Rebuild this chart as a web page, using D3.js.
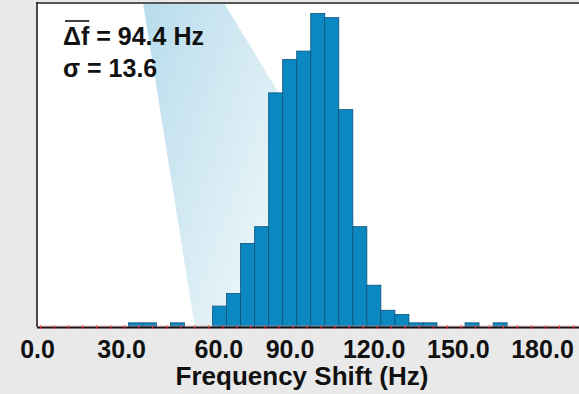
<!DOCTYPE html>
<html>
<head>
<meta charset="utf-8">
<script src="https://d3js.org/d3.v7.min.js"></script>
<style>
    html, body { margin: 0; padding: 0; background: #e9e9e9; }
    svg { display: block; }
    text { font-family: "Liberation Sans", Arial, sans-serif; font-weight: bold; fill: #111; }
</style>
</head>
<body>
<svg width="579" height="394"></svg>
<script>
    // histogram bins: lower edge of the first bin, 5 Hz wide bins, counts
    var binStart = 31.5;
    var binWidth = 5;
    var counts = [1, 1, 0, 1, 0, 0, 5, 8, 20, 24, 56, 64, 66, 75, 74, 52, 24, 10, 4, 3, 1, 1, 0, 0, 1, 0, 1];
    var tickLabels = [0, 30, 60, 90, 120, 150, 180];
    var meanText = "94.4 Hz";
    var sigmaText = "13.6";
    var xTitle = "Frequency Shift (Hz)";
    // light cone drawn behind the bars, in data units (Hz at top / at base)
    var coneTop = [36.7, 65.6];
    var coneBase = [55.2, 135.8];

    var svg = d3.select("svg"),
        W = 579, H = 394,
        plotLeft = 37, plotTop = 3, base = 327;

    var x = d3.scaleLinear().domain([0, 180]).range([40, 545]);
    var y = d3.scaleLinear().domain([0, 77.5]).range([base, plotTop]);

    var bins = counts.map(function (c, i) {
        return { x0: binStart + i * binWidth, x1: binStart + (i + 1) * binWidth, n: c };
    }).filter(function (d) { return d.n > 0; });

    var defs = svg.append("defs");
    var grad = defs.append("linearGradient")
        .attr("id", "cone")
        .attr("gradientUnits", "userSpaceOnUse")
        .attr("x1", x(coneTop[0])).attr("y1", plotTop)
        .attr("x2", x(coneBase[1])).attr("y2", plotTop + 100);
    grad.append("stop").attr("offset", 0).attr("stop-color", "#b7dcec");
    grad.append("stop").attr("offset", 0.55).attr("stop-color", "#e0f0f6");
    grad.append("stop").attr("offset", 0.95).attr("stop-color", "#ffffff");

    // plot frame
    svg.append("rect")
        .attr("x", plotLeft).attr("y", plotTop)
        .attr("width", W - plotLeft + 5).attr("height", base - plotTop)
        .attr("fill", "#fff");

    svg.append("path")
        .attr("d", "M" + x(coneTop[0]) + "," + plotTop +
            "L" + x(coneTop[1]) + "," + plotTop +
            "L" + x(coneBase[1]) + "," + base +
            "L" + x(coneBase[0]) + "," + base + "Z")
        .attr("fill", "url(#cone)");

    svg.append("line")
        .attr("x1", plotLeft).attr("x2", W).attr("y1", plotTop).attr("y2", plotTop)
        .attr("stroke", "#555").attr("stroke-width", 2);
    svg.append("line")
        .attr("x1", plotLeft).attr("x2", plotLeft).attr("y1", plotTop - 1).attr("y2", base)
        .attr("stroke", "#111").attr("stroke-width", 1.5);

    // bars
    svg.append("g").selectAll("rect")
        .data(bins)
        .join("rect")
        .attr("x", function (d) { return x(d.x0); })
        .attr("y", function (d) { return y(d.n); })
        .attr("width", function (d) { return x(d.x1) - x(d.x0); })
        .attr("height", function (d) { return y(0) - y(d.n); })
        .attr("fill", "#0b87c1")
        .attr("stroke", "#0a5478")
        .attr("stroke-width", 0.8);

    // axis line with red minor ticks
    svg.append("line")
        .attr("x1", plotLeft).attr("x2", W).attr("y1", base + 0.5).attr("y2", base + 0.5)
        .attr("stroke", "#111").attr("stroke-width", 2);
    svg.append("line")
        .attr("x1", plotLeft).attr("x2", W).attr("y1", base - 1).attr("y2", base - 1)
        .attr("stroke", "#e88").attr("stroke-width", 0.6);

    var minor = svg.append("g")
        .attr("transform", "translate(0," + (base - 1.5) + ")")
        .call(d3.axisBottom(x).tickValues(d3.range(0, 195, 5)).tickSize(3.5).tickFormat(""));
    minor.select(".domain").remove();
    minor.selectAll("line").attr("stroke", "#e33").attr("stroke-width", 1);

    var major = svg.append("g")
        .attr("transform", "translate(0," + base + ")")
        .call(d3.axisBottom(x).tickValues(tickLabels).tickSize(0).tickPadding(0).tickFormat(d3.format(".1f")));
    major.select(".domain").remove();
    major.selectAll("text")
        .attr("y", 31).attr("dy", 0)
        // the 60.0 label sits a little right of its tick in the original
        .attr("dx", function (d) { return d === 60 ? 10 : -3; })
        .style("font-size", "25px")
        .style("font-family", "'Liberation Sans', Arial, sans-serif")
        .style("font-weight", "bold")
        .attr("fill", "#111");

    svg.append("text")
        .attr("x", 302).attr("y", 385)
        .attr("text-anchor", "middle")
        .style("font-size", "26px")
        .text(xTitle);

    // statistics annotation
    var df = svg.append("text")
        .attr("x", 63).attr("y", 45)
        .style("font-size", "25px");
    var dfSym = df.append("tspan").text("\u0394f");
    df.append("tspan").text(" = " + meanText);
    var symW = dfSym.node().getComputedTextLength();
    svg.append("line")
        .attr("x1", 65).attr("x2", 63 + symW)
        .attr("y1", 21).attr("y2", 21)
        .attr("stroke", "#111").attr("stroke-width", 1.6);

    svg.append("text")
        .attr("x", 63).attr("y", 77)
        .style("font-size", "25px")
        .text("\u03c3 = " + sigmaText);
</script>
</body>
</html>
